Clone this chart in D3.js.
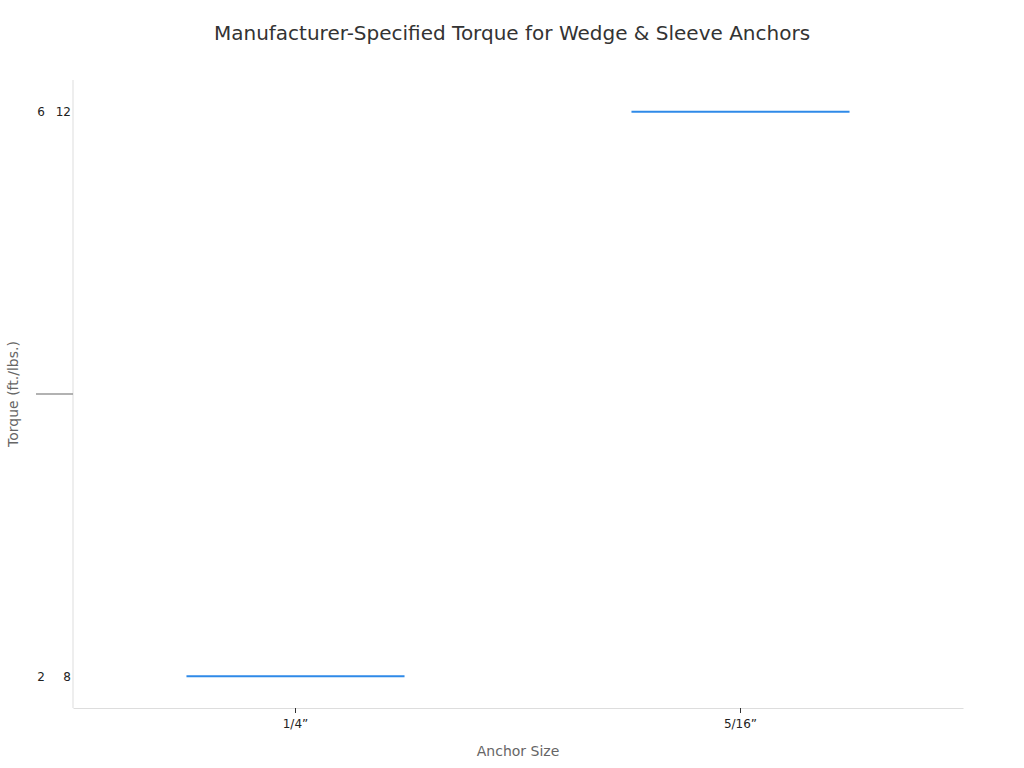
<!DOCTYPE html>
<html lang="en">
<head>
    <meta charset="UTF-8">
    <title>Anchor Torque</title>
    <style>
        body { margin: 0; background: #fff; font-family: "DejaVu Sans", sans-serif; }
        .tick text { fill: #222; font-size: 12px; font-family: "DejaVu Sans", sans-serif; }
    </style>
</head>
<body>
<script src="https://d3js.org/d3.v7.min.js"></script>
<script>

    const anchorSizes = ['1/4\u201d', '5/16\u201d'];
    const minTorque = [2, 6];
    const maxTorque = [8, 12];

    const width = 1024;
    const height = 768;
    const margin = {top: 80, right: 61, bottom: 60, left: 73};

    let svg = d3.select('body').append('svg')
        .attr('width', width)
        .attr('height', height);

    let x = d3.scaleBand()
        .domain(anchorSizes)
        .range([margin.left, width - margin.right])
        .paddingInner(0.51)
        .paddingOuter(0.255);

    let y = d3.scalePoint()
        .domain(d3.range(anchorSizes.length))
        .range([height - margin.bottom, margin.top])
        .padding(0.056);

    // x axis
    let xAxis = svg.append('g')
        .attr('transform', 'translate(0,' + (height - margin.bottom) + ')')
        .call(d3.axisBottom(x).tickSizeInner(5).tickSizeOuter(0).tickPadding(6));
    xAxis.select('.domain').attr('stroke', '#ddd');
    xAxis.selectAll('.tick line').attr('stroke', '#333');

    // left axis line
    svg.append('line')
        .attr('x1', margin.left).attr('x2', margin.left)
        .attr('y1', margin.top).attr('y2', height - margin.bottom)
        .attr('stroke', '#ddd');

    // y tick labels: min and max columns
    let rows = svg.append('g').selectAll('g')
        .data(d3.range(anchorSizes.length))
        .enter().append('g')
        .attr('class', 'tick');
    rows.append('text')
        .attr('x', 45)
        .attr('y', d => y(d))
        .attr('dy', '0.35em')
        .attr('text-anchor', 'end')
        .text(d => minTorque[d]);
    rows.append('text')
        .attr('x', 71)
        .attr('y', d => y(d))
        .attr('dy', '0.35em')
        .attr('text-anchor', 'end')
        .text(d => maxTorque[d]);

    // stray middle mark
    svg.append('line')
        .attr('x1', 36).attr('x2', margin.left)
        .attr('y1', (y(0) + y(1)) / 2).attr('y2', (y(0) + y(1)) / 2)
        .attr('stroke', '#999')
        .attr('stroke-width', 1.5);

    // marks
    svg.append('g').selectAll('line')
        .data(anchorSizes)
        .enter().append('line')
        .attr('x1', d => x(d))
        .attr('x2', d => x(d) + x.bandwidth())
        .attr('y1', (d, i) => y(i))
        .attr('y2', (d, i) => y(i))
        .attr('stroke', '#2f8ae8')
        .attr('stroke-width', 2);

    svg.append('text')
        .attr('x', width / 2)
        .attr('y', 40)
        .attr('text-anchor', 'middle')
        .attr('fill', '#333')
        .style('font-size', '20px')
        .text('Manufacturer-Specified Torque for Wedge & Sleeve Anchors');

    svg.append('text')
        .attr('x', (margin.left + width - margin.right) / 2)
        .attr('y', 756)
        .attr('text-anchor', 'middle')
        .attr('fill', '#666')
        .style('font-size', '14px')
        .text('Anchor Size');

    svg.append('text')
        .attr('transform', 'translate(18,' + ((margin.top + height - margin.bottom) / 2) + ') rotate(-90)')
        .attr('text-anchor', 'middle')
        .attr('fill', '#666')
        .style('font-size', '14px')
        .text('Torque (ft./lbs.)');

</script>
</body>
</html>
